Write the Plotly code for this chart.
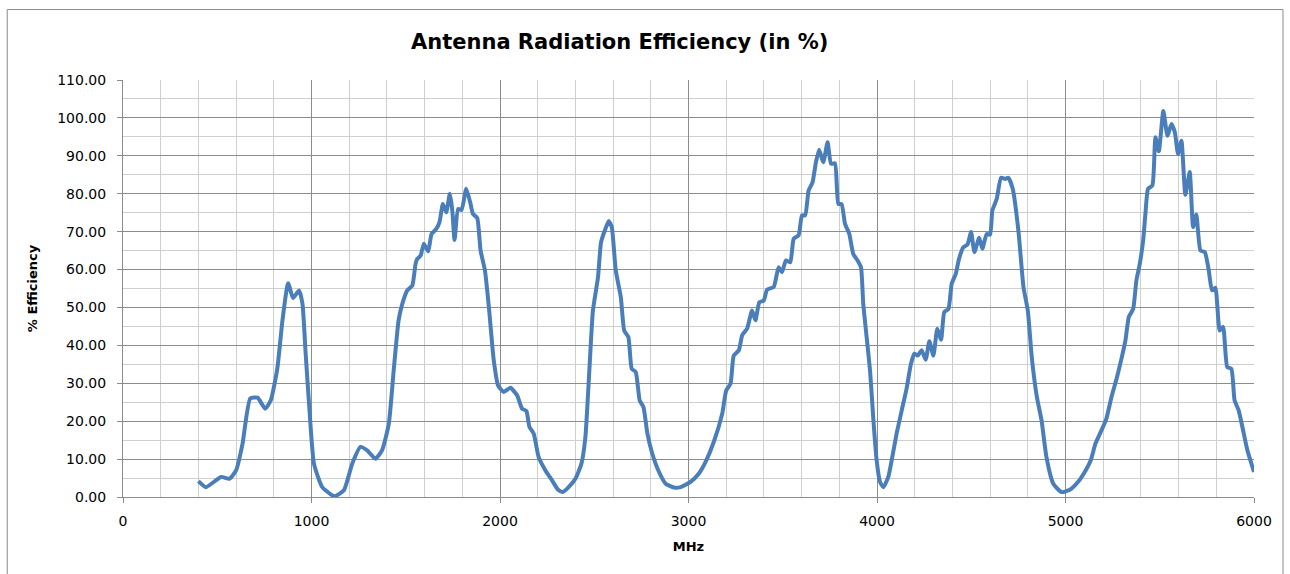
import plotly.graph_objects as go

mhz = [400, 440, 520, 564, 600, 634, 675, 714, 754, 784, 819, 846, 876, 902, 934, 952, 969, 987,
       1013, 1057, 1122, 1172, 1216, 1260, 1295, 1339, 1374, 1410, 1436, 1462, 1482, 1508, 1535,
       1552, 1561, 1579, 1596, 1619, 1637, 1662, 1679, 1697, 1715, 1734, 1747, 1759, 1778, 1796,
       1821, 1844, 1856, 1879, 1897, 1920, 1941, 1967, 1990, 2020, 2055, 2091, 2117, 2140, 2156,
       2179, 2205, 2241, 2276, 2308, 2333, 2364, 2400, 2432, 2453, 2474, 2493, 2520, 2536, 2559,
       2577, 2593, 2614, 2641, 2659, 2681, 2699, 2720, 2741, 2761, 2782, 2808, 2840, 2879, 2923,
       2958, 3011, 3055, 3090, 3134, 3179, 3200, 3223, 3240, 3267, 3285, 3311, 3337, 3355, 3376,
       3399, 3417, 3452, 3478, 3496, 3517, 3540, 3558, 3584, 3602, 3619, 3637, 3658, 3676, 3693,
       3715, 3738, 3756, 3777, 3795, 3812, 3830, 3853, 3874, 3897, 3915, 3927, 3945, 3963, 3981,
       3998, 4016, 4034, 4060, 4081, 4104, 4131, 4157, 4180, 4198, 4216, 4237, 4258, 4278, 4299,
       4320, 4340, 4357, 4379, 4396, 4418, 4435, 4458, 4480, 4499, 4517, 4542, 4559, 4582, 4600,
       4612, 4635, 4658, 4680, 4697, 4720, 4750, 4777, 4800, 4821, 4848, 4873, 4899, 4935, 4979,
       5023, 5067, 5102, 5134, 5159, 5191, 5217, 5244, 5271, 5297, 5318, 5336, 5359, 5376, 5394,
       5412, 5424, 5438, 5461, 5477, 5495, 5519, 5541, 5562, 5580, 5597, 5615, 5636, 5659, 5677,
       5694, 5716, 5739, 5760, 5777, 5795, 5818, 5836, 5858, 5880, 5897, 5919, 5942, 5965, 6000]

efficiency = [4.2, 2.6, 5.3, 4.8, 7.0, 14.0, 26.0, 26.2, 23.3, 25.5, 34.0, 46.6, 56.4, 52.5, 54.5,
              51.0, 37.8, 24.6, 8.8, 2.6, 0.2, 1.8, 8.8, 13.2, 12.3, 10.1, 12.3, 19.3, 33.4, 46.6,
              51.0, 54.5, 55.8, 61.5, 62.8, 63.7, 66.8, 64.8, 69.4, 70.7, 72.5, 77.3, 75.1, 80.0,
              75.6, 67.8, 76.0, 75.7, 81.3, 77.3, 74.7, 73.6, 65.0, 59.8, 50.1, 36.0, 29.4, 27.7,
              28.8, 26.8, 23.3, 22.7, 18.5, 16.7, 10.5, 7.0, 4.4, 1.9, 1.3, 2.6, 4.8, 8.8, 15.8,
              33.4, 49.2, 58.0, 67.2, 70.7, 72.8, 71.2, 59.8, 52.7, 43.9, 42.2, 33.8, 33.0, 25.5,
              23.7, 16.7, 11.4, 7.0, 3.5, 2.5, 2.6, 4.0, 6.2, 9.2, 14.5, 22.0, 28.1, 29.9, 37.3,
              38.7, 42.7, 44.4, 49.2, 46.6, 51.4, 51.8, 54.7, 55.4, 60.6, 59.3, 62.4, 61.9, 68.1,
              69.0, 74.3, 74.3, 80.8, 83.0, 88.3, 91.6, 88.3, 93.6, 87.9, 88.0, 77.3, 77.3, 72.1,
              69.4, 64.1, 62.4, 60.6, 51.0, 42.2, 33.4, 20.2, 9.7, 4.0, 2.6, 5.3, 10.5, 16.7, 22.8,
              28.6, 35.1, 37.8, 37.3, 38.7, 36.2, 41.1, 37.3, 44.4, 41.5, 48.8, 49.6, 56.2, 58.9,
              62.8, 65.9, 66.6, 69.9, 64.6, 68.4, 65.5, 69.4, 69.2, 75.6, 78.6, 84.2, 83.9, 84.2,
              81.3, 70.3, 55.4, 49.2, 36.9, 26.4, 20.2, 10.5, 3.5, 1.3, 1.9, 4.0, 6.6, 9.7, 14.1,
              17.6, 20.7, 26.4, 31.2, 36.5, 41.3, 47.5, 49.6, 57.1, 61.5, 67.7, 74.7, 81.3, 82.2,
              94.9, 91.2, 101.8, 95.3, 98.4, 96.2, 90.5, 94.0, 79.7, 85.7, 71.2, 74.5, 65.0, 64.6,
              59.8, 54.5, 55.2, 43.9, 44.9, 34.3, 33.8, 25.5, 22.8, 17.6, 12.3, 6.6]

title_text = "Antenna Radiation Efficiency (in %)"
x_title = "MHz"
y_title = "% Efficiency"

FONT = "DejaVu Sans, Liberation Sans, sans-serif"

fig = go.Figure()
fig.add_trace(go.Scatter(
    x=mhz, y=efficiency, mode="lines",
    line=dict(color="#4a7ebb", width=4, shape="spline", smoothing=0.5),
    showlegend=False, hoverinfo="x+y",
))

W, H = 1290, 574
L, R, T, B = 123.3, 1254.5, 80.0, 497.3
pw, ph = R - L, B - T

def px_x(p):
    return (p - L) / pw

def px_y(p):
    return (B - p) / ph

fig.update_layout(
    width=W, height=H,
    margin=dict(l=L, r=W - R, t=T, b=H - B, pad=0),
    paper_bgcolor="white", plot_bgcolor="white",
    font=dict(family=FONT, size=13, color="#000000"),
    xaxis=dict(
        range=[0, 6000], dtick=1000, tick0=0,
        showgrid=True, gridcolor="#8c8c8c", gridwidth=1,
        minor=dict(dtick=200, showgrid=True, gridcolor="#cfcfcf", gridwidth=1),
        showline=True, linecolor="#8c8c8c", linewidth=1,
        ticks="outside", ticklen=5, tickcolor="#8c8c8c",
        tickfont=dict(family=FONT, size=14, color="#000"),
        ticklabelstandoff=6,
        zeroline=False, fixedrange=True,
        title=dict(text="<b>" + x_title + "</b>", font=dict(family=FONT, size=13), standoff=14),
    ),
    yaxis=dict(
        range=[0, 110], dtick=10, tick0=0, tickformat=".2f",
        showgrid=True, gridcolor="#8c8c8c", gridwidth=1,
        minor=dict(dtick=5, showgrid=True, gridcolor="#cfcfcf", gridwidth=1),
        showline=True, linecolor="#8c8c8c", linewidth=1,
        ticks="outside", ticklen=5, tickcolor="#8c8c8c",
        tickfont=dict(family=FONT, size=14, color="#000"),
        ticklabelstandoff=8,
        zeroline=False, fixedrange=True,
        title=dict(text="<b>" + y_title + "</b>", font=dict(family=FONT, size=13), standoff=16),
    ),
    shapes=[dict(
        type="rect", xref="paper", yref="paper",
        x0=px_x(7.5), x1=px_x(1283.5), y0=px_y(590), y1=px_y(9.5),
        line=dict(color="#8a8a8a", width=1), fillcolor="rgba(0,0,0,0)", layer="below",
    )],
    annotations=[dict(
        text="<b>" + title_text + "</b>", xref="paper", yref="paper",
        x=px_x(620), y=px_y(42), xanchor="center", yanchor="middle",
        showarrow=False, font=dict(family=FONT, size=21, color="#000"),
    )],
)

fig.write_html("out.html", config={"displayModeBar": False},
               post_script="document.body.style.margin='0';document.body.style.overflow='hidden';")
